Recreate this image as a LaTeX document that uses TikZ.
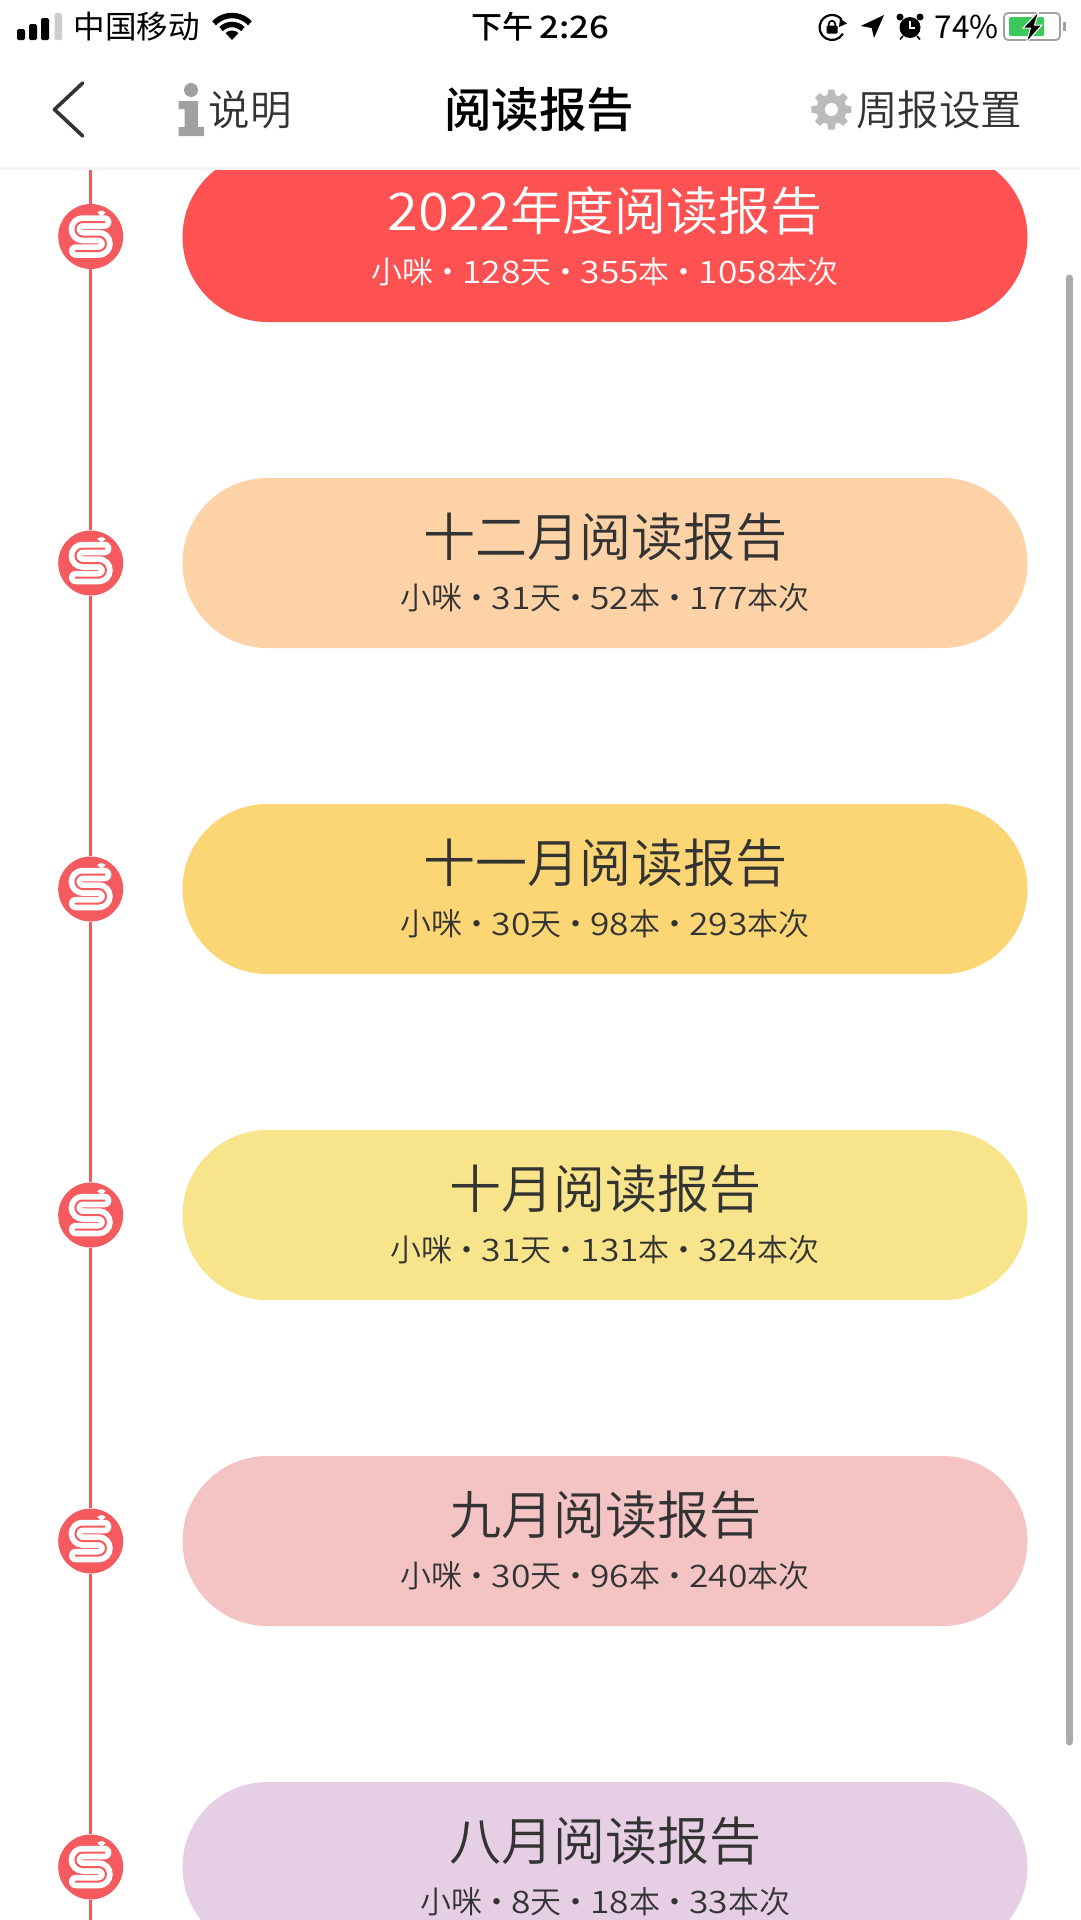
\documentclass[tikz,border=0pt]{standalone}
\usepackage{fontspec}
\setmainfont{Noto Sans CJK SC}
\newfontfamily\lightcjk{Noto Sans CJK SC DemiLight}
\newfontfamily\medcjk{Noto Sans CJK SC Medium}
\newfontfamily\digs[FakeStretch=1.14]{Noto Sans CJK SC DemiLight}
\newfontfamily\tdigs[FakeStretch=1.08]{Noto Sans CJK SC DemiLight}
\newfontfamily\meddigs[FakeStretch=1.12]{Noto Sans CJK SC Medium}
\newcommand\dg[1]{{\digs #1}}
\newcommand\sd{\kern-1pt·\kern-1pt}
\definecolor{tl}{HTML}{F55A5F}
\definecolor{c1}{HTML}{FE5252}
\definecolor{c2}{HTML}{FDD2A6}
\definecolor{c3}{HTML}{FCD574}
\definecolor{c4}{HTML}{F8E48A}
\definecolor{c5}{HTML}{F4C3C4}
\definecolor{c6}{HTML}{E6CEE5}
\definecolor{ink}{HTML}{333333}
\tikzset{
  pill/.style={rectangle,rounded corners=85pt,minimum width=845pt,minimum height=170pt,inner sep=0pt},
  ptitle/.style={inner sep=0pt,font=\lightcjk\fontsize{52}{52}\selectfont,text=ink},
  psub/.style={inner sep=0pt,font=\lightcjk\fontsize{31}{31}\selectfont,text=ink},
  stat/.style={inner sep=0pt,font=\fontsize{31.5}{31.5}\selectfont,text=black},
  navt/.style={inner sep=0pt,font=\lightcjk\fontsize{41.5}{41.5}\selectfont,text=ink},
  dot/.style={circle,fill=tl,minimum size=65pt,inner sep=0pt},
  seg/.style={draw=tl,line width=2.5pt},
  logo/.pic={
    \begin{scope}[y=1pt,x=1pt]
      \draw[white,line width=13.5pt,line cap=round] (14,14.5) -- (-8,14.5) arc (90:270:7.25) -- (8,0) arc (90:-90:7.25) -- (-15,-14.5);
      \draw[tl,line width=2pt,line cap=round] (14,14.5) -- (-8,14.5) arc (90:270:7.25) -- (8,0) arc (90:-90:7.25) -- (-15,-14.5);
      \fill[white] (11,20) -- (15,24) -- (11.5,26) -- (11,25) -- (10,26) -- (6.5,24) -- cycle;
    \end{scope}
  }
}
\begin{document}
\begin{tikzpicture}[x=1pt,y=-1pt]
\clip (0,0) rectangle (1080,1920);
\fill[white] (0,0) rectangle (1080,1920);
% pills
\node[pill,fill=c1] (p1) at (605,237) {};
\node[pill,fill=c2] (p2) at (605,563) {};
\node[pill,fill=c3] (p3) at (605,889) {};
\node[pill,fill=c4] (p4) at (605,1215) {};
\node[pill,fill=c5] (p5) at (605,1541) {};
\node[pill,fill=c6] (p6) at (605,1867) {};
% timeline
\node[dot] (d1) at (90.7,236.5) {};
\node[dot] (d2) at (90.7,563) {};
\node[dot] (d3) at (90.7,889) {};
\node[dot] (d4) at (90.7,1215) {};
\node[dot] (d5) at (90.7,1541) {};
\node[dot] (d6) at (90.7,1867) {};
\coordinate (tltop) at (90.7,169);
\coordinate (tlbot) at (90.7,1920);
\draw[seg] (tltop) -- (d1);
\draw[seg] (d1) -- (d2);
\draw[seg] (d2) -- (d3);
\draw[seg] (d3) -- (d4);
\draw[seg] (d4) -- (d5);
\draw[seg] (d5) -- (d6);
\draw[seg] (d6) -- (tlbot);
\foreach \n in {d1,d2,d3,d4,d5,d6} \pic at (\n) {logo};
% pill texts
\node[ptitle,text=white] (t1) at (605,211) {{\tdigs 2022}年度阅读报告};
\node[psub,text=white] (s1) at (605,272) {小咪\sd\dg{128}天\sd\dg{355}本\sd\dg{1058}本次};
\node[ptitle] (t2) at (605,537) {十二月阅读报告};
\node[psub] (s2) at (605,598) {小咪\sd\dg{31}天\sd\dg{52}本\sd\dg{177}本次};
\node[ptitle] (t3) at (605,863) {十一月阅读报告};
\node[psub] (s3) at (605,924) {小咪\sd\dg{30}天\sd\dg{98}本\sd\dg{293}本次};
\node[ptitle] (t4) at (605,1189) {十月阅读报告};
\node[psub] (s4) at (605,1250) {小咪\sd\dg{31}天\sd\dg{131}本\sd\dg{324}本次};
\node[ptitle] (t5) at (605,1515) {九月阅读报告};
\node[psub] (s5) at (605,1576) {小咪\sd\dg{30}天\sd\dg{96}本\sd\dg{240}本次};
\node[ptitle] (t6) at (605,1841) {八月阅读报告};
\node[psub] (s6) at (605,1902) {小咪\sd\dg{8}天\sd\dg{18}本\sd\dg{33}本次};
% scrollbar
\draw[color={rgb,255:red,171;green,171;blue,171},line width=7pt,line cap=round] (1069,278) -- (1069,1742);
% top bar
\fill[white] (0,0) rectangle (1080,167);
\fill[color={rgb,255:red,244;green,244;blue,244}] (0,167) rectangle (1080,169.5);
% signal
\fill[black,rounded corners=1.5pt] (17,29) rectangle (25,40);
\fill[black,rounded corners=1.5pt] (29,24) rectangle (37,40);
\fill[black,rounded corners=1.5pt] (41,18) rectangle (49,40);
\fill[color={rgb,255:red,205;green,205;blue,205},rounded corners=1.5pt] (54.5,13) rectangle (62,40);
\node[stat] (carrier) at (136.5,27) {中国移动};
% wifi
\begin{scope}[shift={(232,40)},y=1pt]
  \fill[black] (0,0) -- (47:9.5) arc (47:133:9.5) -- cycle;
  \draw[black,line width=5.5pt] (45:15.5) arc (45:135:15.5);
  \draw[black,line width=5.5pt] (43:24.5) arc (43:137:24.5);
\end{scope}
\node[inner sep=0pt,font=\medcjk\fontsize{31}{31}\selectfont,text=black] (clock) at (540.5,27) {下午\kern6pt{\meddigs 2:26}};
% rotation lock
\begin{scope}[shift={(832,27.5)},y=1pt]
  \draw[black,line width=2.2pt] (-30:12.5) arc (-30:-320:12.5);
  \fill[black] (8,9) -- (15,4) -- (7,0.5) -- cycle;
  \fill[black,rounded corners=1pt] (-5.5,-6) rectangle (5.5,2);
  \draw[black,line width=1.7pt] (-3.2,1) -- (-3.2,3.5) arc (180:0:3.2) -- (3.2,1);
\end{scope}
% location
\fill[black] (860.7,26) -- (884,15) -- (874,38) -- (871.7,28) -- cycle;
% alarm
\fill[black] (910,27.5) circle (10.5);
\draw[white,line width=1.4pt] (910,21) -- (910,28) -- (915,28);
\fill[black] (900,17) circle (3.5);
\fill[black] (920,17) circle (3.5);
\draw[black,line width=1.6pt] (903,36) -- (900,39.5);
\draw[black,line width=1.6pt] (917,36) -- (920,39.5);
\node[stat] (pct) at (966.7,27) {74\%};
% battery
\draw[color={rgb,255:red,160;green,160;blue,160},line width=1.8pt,rounded corners=4pt] (1004,13) rectangle (1060,40);
\fill[color={rgb,255:red,160;green,160;blue,160}] (1063,22) rectangle (1065.5,31);
\fill[color={rgb,255:red,60;green,200;blue,90},rounded corners=1.5pt] (1009,17) rectangle (1044,36);
\fill[black,draw=white,line width=1pt] (1039,11) -- (1023,28) -- (1030.5,28) -- (1026,43) -- (1042,25) -- (1034.5,25) -- cycle;
% back chevron
\draw[color=ink,line width=3.6pt,line cap=round,line join=round] (82.7,83) -- (54.5,109.5) -- (82.7,136);
% info icon
\fill[color={rgb,255:red,160;green,160;blue,160}] (191,90) circle (7);
\fill[color={rgb,255:red,160;green,160;blue,160}] (178.6,101) -- (198,101) -- (198,127) -- (204,127) -- (204,136) -- (178.6,136) -- (178.6,127) -- (184.5,127) -- (184.5,109) -- (178.6,109) -- cycle;
\node[navt] (info) at (250,110) {说明};
\node[inner sep=0pt,font=\medcjk\fontsize{47.5}{47.5}\selectfont,text=black] (head) at (539,110) {阅读报告};
% gear
\begin{scope}[shift={(831.4,109.5)},y=1pt]
  \fill[color={rgb,255:red,187;green,187;blue,187}] (0,0) circle (15);
  \foreach \a in {0,45,...,315}
    \fill[color={rgb,255:red,187;green,187;blue,187},rotate=\a] (-4.5,12) -- (-3.2,20) -- (3.2,20) -- (4.5,12) -- cycle;
  \fill[white] (0,0) circle (6.5);
\end{scope}
\node[navt] (weekly) at (939,110) {周报设置};
\end{tikzpicture}
\end{document}
